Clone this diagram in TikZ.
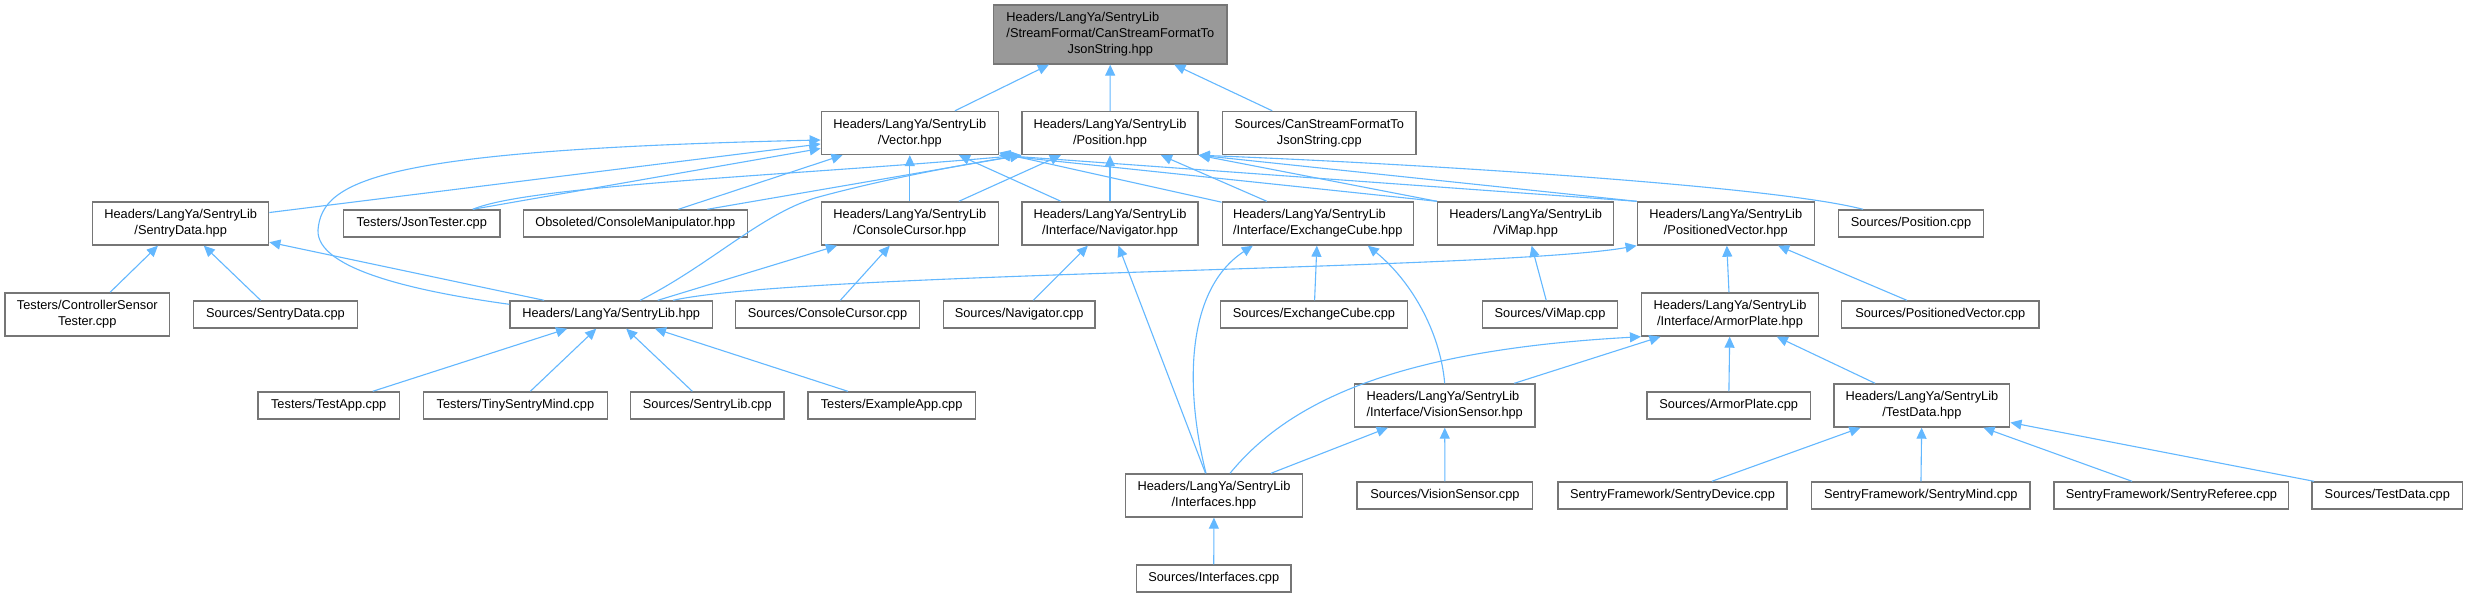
\documentclass[tikz,border=0pt]{standalone}
\usepackage{fontspec}
\setmainfont{Liberation Sans}
\usetikzlibrary{arrows.meta}
\definecolor{edgeblue}{HTML}{63B8FF}
\definecolor{nodegray}{HTML}{767676}
\definecolor{rootfill}{HTML}{999999}
\newcommand\twoline[2]{\begin{tabular}{@{}l@{}}#1\\\multicolumn{1}{@{}c@{}}{#2}\end{tabular}}
\newcommand\threeline[3]{\begin{tabular}{@{}l@{}}#1\\#2\\\multicolumn{1}{@{}c@{}}{#3}\end{tabular}}
\begin{document}
\begin{tikzpicture}[x=1pt,y=-1pt,
 box/.style={draw=nodegray, line width=1.4pt, fill=white, inner sep=0pt, font=\fontsize{12.8}{16}\selectfont},
 one/.style={box, minimum height=27pt},
 two/.style={box, minimum height=43pt},
 dep/.style={draw=edgeblue, line width=1.1pt, -{Triangle[length=11pt,width=10pt]}}]
\useasboundingbox[fill=white] (0,0) rectangle (2468,597);

% row 1
\node[box, fill=rootfill, minimum width=233.5pt, minimum height=59pt] (root) at (1110.3,34.5) {\threeline{Headers/LangYa/SentryLib}{/StreamFormat/CanStreamFormatTo}{JsonString.hpp}};
% row 2
\node[two, minimum width=177pt] (vec) at (909.8,133) {\twoline{Headers/LangYa/SentryLib}{/Vector.hpp}};
\node[two, minimum width=176pt] (pos) at (1110,133) {\twoline{Headers/LangYa/SentryLib}{/Position.hpp}};
\node[two, minimum width=193.4pt] (cansrc) at (1319.3,133) {\twoline{Sources/CanStreamFormatTo}{JsonString.cpp}};
% row 3
\node[two, minimum width=176pt] (sdata) at (180.7,223.5) {\twoline{Headers/LangYa/SentryLib}{/SentryData.hpp}};
\node[one, minimum width=156.4pt] (jsontest) at (421.8,223.5) {Testers/JsonTester.cpp};
\node[one, minimum width=224pt] (consmanip) at (635.3,223.5) {Obsoleted/ConsoleManipulator.hpp};
\node[two, minimum width=177pt] (ccur) at (909.8,223.5) {\twoline{Headers/LangYa/SentryLib}{/ConsoleCursor.hpp}};
\node[two, minimum width=176pt] (nav) at (1110,223.5) {\twoline{Headers/LangYa/SentryLib}{/Interface/Navigator.hpp}};
\node[two, minimum width=191pt] (xcube) at (1317.8,223.5) {\twoline{Headers/LangYa/SentryLib}{/Interface/ExchangeCube.hpp}};
\node[two, minimum width=176pt] (vimap) at (1525.7,223.5) {\twoline{Headers/LangYa/SentryLib}{/ViMap.hpp}};
\node[two, minimum width=177pt] (posvec) at (1725.8,223.5) {\twoline{Headers/LangYa/SentryLib}{/PositionedVector.hpp}};
\node[one, minimum width=145.3pt] (poscpp) at (1911,223.5) {Sources/Position.cpp};
% row 4
\node[two, minimum width=164.5pt] (ctrlsensor) at (87.3,314.5) {\twoline{Testers/ControllerSensor}{Tester.cpp}};
\node[one, minimum width=163.8pt] (sdatacpp) at (275.4,314.5) {Sources/SentryData.cpp};
\node[one, minimum width=202.3pt] (slib) at (611.2,314.5) {Headers/LangYa/SentryLib.hpp};
\node[one, minimum width=183.6pt] (ccurcpp) at (827.5,314.5) {Sources/ConsoleCursor.cpp};
\node[one, minimum width=151.7pt] (navcpp) at (1019.2,314.5) {Sources/Navigator.cpp};
\node[one, minimum width=186.7pt] (xcubecpp) at (1314,314.5) {Sources/ExchangeCube.cpp};
\node[one, minimum width=135.3pt] (vimapcpp) at (1550,314.5) {Sources/ViMap.cpp};
\node[two, minimum width=176.7pt] (armor) at (1730,314.5) {\twoline{Headers/LangYa/SentryLib}{/Interface/ArmorPlate.hpp}};
\node[one, minimum width=197.3pt] (posveccpp) at (1940.3,314.5) {Sources/PositionedVector.cpp};
% row 5
\node[one, minimum width=141.8pt] (testapp) at (328.7,405.5) {Testers/TestApp.cpp};
\node[one, minimum width=183.6pt] (tiny) at (515.4,405.5) {Testers/TinySentryMind.cpp};
\node[one, minimum width=153.3pt] (slibcpp) at (707.3,405.5) {Sources/SentryLib.cpp};
\node[one, minimum width=167.2pt] (example) at (891.6,405.5) {Testers/ExampleApp.cpp};
\node[two, minimum width=180.7pt] (vsensor) at (1444.7,405.5) {\twoline{Headers/LangYa/SentryLib}{/Interface/VisionSensor.hpp}};
\node[one, minimum width=163.4pt] (armorcpp) at (1728.7,405.5) {Sources/ArmorPlate.cpp};
\node[two, minimum width=175.7pt] (testdata) at (1921.9,405.5) {\twoline{Headers/LangYa/SentryLib}{/TestData.hpp}};
% row 6
\node[two, minimum width=177.3pt] (ifaces) at (1214,495.5) {\twoline{Headers/LangYa/SentryLib}{/Interfaces.hpp}};
\node[one, minimum width=175.7pt] (vscpp) at (1444.9,495.5) {Sources/VisionSensor.cpp};
\node[one, minimum width=229pt] (sdev) at (1672.5,495.5) {SentryFramework/SentryDevice.cpp};
\node[one, minimum width=218.5pt] (smind) at (1920.8,495.5) {SentryFramework/SentryMind.cpp};
\node[one, minimum width=234.7pt] (sref) at (2171.4,495.5) {SentryFramework/SentryReferee.cpp};
\node[one, minimum width=150.5pt] (tdcpp) at (2387.3,495.5) {Sources/TestData.cpp};
% row 7
\node[one, minimum width=154.7pt] (ifacescpp) at (1213.7,578.5) {Sources/Interfaces.cpp};

% edges to root
\draw[dep] (vec) -- (root);
\draw[dep] (pos) -- (root);
\draw[dep] (cansrc) -- (root);
% edges to Vector / Position
\draw[dep] (sdata) -- (vec);
\draw[dep] ([xshift=51pt]jsontest.north) -- (vec);
\draw[dep] ([xshift=51pt]jsontest.north) .. controls (530,185) and (800,175) .. (pos.south west);
\draw[dep] (consmanip) -- (vec);
\draw[dep] ([xshift=72pt]consmanip.north) -- (pos.south west);
\draw[dep] ([yshift=-4pt]slib.north west) .. controls (420,292) and (316,270) .. (318,230) .. controls (322,180) and (380,150) .. ([yshift=-7pt]vec.west);
\draw[dep] ([xshift=29pt]slib.north) .. controls (710,265) and (760,215) .. (815,198) .. controls (880,180) and (960,165) .. (pos.south west);
\draw[dep] (ccur) -- (vec);
\draw[dep] (ccur) -- (pos);
\draw[dep] (nav) -- (vec);
\draw[dep] (nav) -- (pos);
\draw[dep] (xcube) -- (vec);
\draw[dep] (xcube) -- (pos);
\draw[dep] (vimap.north west) -- (vec.south east);
\draw[dep] (vimap.north west) -- (pos.south east);
\draw[dep] (posvec.north west) -- (vec.south east);
\draw[dep] (posvec.north west) -- (pos.south east);
\draw[dep] ([xshift=-48pt]poscpp.north) .. controls (1770,185) and (1400,163) .. (pos.south east);
% row 4 edges
\draw[dep] (slib) -- (sdata);
\draw[dep] (ctrlsensor) -- (sdata);
\draw[dep] (sdatacpp) -- (sdata);
\draw[dep] (slib) -- (ccur);
\draw[dep] ([xshift=62pt]slib.north) .. controls (800,272) and (1500,270) .. (posvec.south west);
\draw[dep] (ccurcpp) -- (ccur);
\draw[dep] (navcpp) -- (nav);
\draw[dep] (ifaces) -- (nav);
\draw[dep] ([xshift=-8pt]ifaces.north) .. controls (1185,390) and (1185,290) .. ([xshift=-65pt]xcube.south);
\draw[dep] (xcubecpp) -- (xcube);
\draw[dep] (vsensor.north) .. controls (1440,330) and (1410,280) .. ([xshift=50pt]xcube.south);
\draw[dep] (vimapcpp) -- (vimap);
\draw[dep] (armor) -- (posvec);
\draw[dep] (posveccpp) -- (posvec);
% lower edges
\draw[dep] (armorcpp) -- (armor);
\draw[dep] (testdata) -- (armor);
\draw[dep] ([xshift=16pt]ifaces.north) .. controls (1290,400) and (1400,350) .. (armor.south west);
\draw[dep] (vsensor) -- (armor);
\draw[dep] (ifaces) -- (vsensor);
\draw[dep] (vscpp) -- (vsensor);
\draw[dep] (ifacescpp) -- (ifaces);
\draw[dep] (testapp) -- (slib);
\draw[dep] (tiny) -- (slib);
\draw[dep] (slibcpp) -- (slib);
\draw[dep] (example) -- (slib);
\draw[dep] (sdev) -- (testdata);
\draw[dep] (smind) -- (testdata);
\draw[dep] (sref) -- (testdata);
\draw[dep] (tdcpp) -- (testdata);
\end{tikzpicture}
\end{document}
